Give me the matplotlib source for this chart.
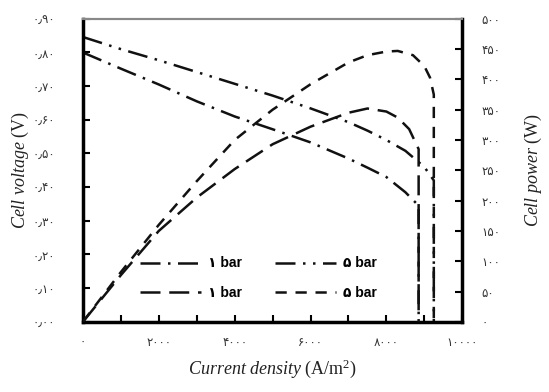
import matplotlib
matplotlib.use("Agg")
from matplotlib import pyplot as plt

# current density (A/m^2) and cell voltage (V) / cell power (W) at 1 and 5 bar
i_v1 = [0, 1000, 2000, 3000, 4000, 5000, 6000, 7000, 7500, 8000, 8500, 8850, 8850]
v_1bar = [0.800, 0.752, 0.705, 0.655, 0.610, 0.572, 0.533, 0.485, 0.458, 0.430, 0.385, 0.345, 0.0]

i_v5 = [0, 1000, 2000, 3000, 4000, 5000, 6000, 7000, 7500, 8000, 8500, 9000, 9250, 9250]
v_5bar = [0.846, 0.810, 0.777, 0.742, 0.707, 0.672, 0.634, 0.593, 0.568, 0.540, 0.508, 0.460, 0.420, 0.0]

i_p1 = [0, 1000, 2000, 3000, 4000, 5000, 6000, 7000, 7500, 8000, 8300, 8600, 8850, 8850]
p_1bar = [0, 77, 150, 205, 252, 293, 322, 345, 352, 347, 337, 318, 285, 0]

i_p5 = [0, 1000, 2000, 3000, 4000, 5000, 6000, 7000, 7500, 8000, 8300, 8700, 9000, 9150, 9250, 9250]
p_5bar = [0, 82, 160, 232, 300, 350, 392, 428, 440, 446, 447, 440, 422, 403, 375, 0]

x_ticks = [0, 2000, 4000, 6000, 8000, 10000]
x_labels = ['۰', '۲۰۰۰', '۴۰۰۰', '۶۰۰۰', '۸۰۰۰', '۱۰۰۰۰']
v_ticks = [0.0, 0.1, 0.2, 0.3, 0.4, 0.5, 0.6, 0.7, 0.8, 0.9]
v_labels = ['۰٫۰۰', '۰٫۱۰', '۰٫۲۰', '۰٫۳۰', '۰٫۴۰', '۰٫۵۰', '۰٫۶۰', '۰٫۷۰', '۰٫۸۰', '۰٫۹۰']
p_ticks = [0, 50, 100, 150, 200, 250, 300, 350, 400, 450, 500]
p_labels = ['۰', '۵۰', '۱۰۰', '۱۵۰', '۲۰۰', '۲۵۰', '۳۰۰', '۳۵۰', '۴۰۰', '۴۵۰', '۵۰۰']

plt.rcParams['mathtext.fontset'] = 'custom'
plt.rcParams['mathtext.rm'] = 'Liberation Serif'
plt.rcParams['mathtext.it'] = 'Liberation Serif:italic'

fig = plt.figure(figsize=(5.49, 3.92), dpi=100)
ax = fig.add_axes([0.151, 0.179, 0.691, 0.773])
ax2 = ax.twinx()

ink = '#111111'
l1, = ax.plot(i_v1, v_1bar, color=ink, lw=1.8, dashes=(8, 3, 1, 3), label='۱ bar')
l2, = ax.plot(i_v5, v_5bar, color=ink, lw=1.8, dashes=(8, 3, 1, 3, 1, 3), label='۵ bar')
l3, = ax2.plot(i_p1, p_1bar, color=ink, lw=1.8, dashes=(8, 3.5), label='۱ bar')
l4, = ax2.plot(i_p5, p_5bar, color=ink, lw=1.8, dashes=(4.5, 3.5), label='۵ bar')

ax.set_xlim(0, 10000)
ax.set_ylim(0, 0.9)
ax2.set_ylim(0, 500)

tick_font = dict(family=['DejaVu Sans'], size=8.5, color='#333333')
ax.set_xticks(x_ticks)
ax.set_xticklabels(x_labels, **tick_font)
ax.set_xticks(range(1000, 10000, 2000), minor=True)
ax.set_yticks(v_ticks)
ax.set_yticklabels(v_labels, **tick_font)
ax2.set_yticks(p_ticks)
ax2.set_yticklabels(p_labels, **tick_font)

ax.tick_params(axis='x', which='both', direction='in', length=5, width=1.5, pad=10)
ax.tick_params(axis='y', direction='in', length=5, width=1.5, pad=20)
ax2.tick_params(axis='y', direction='in', length=5, width=1.5, pad=14)

for a in (ax, ax2):
    a.spines['top'].set_color('#888888')
    a.spines['top'].set_linewidth(1.5)
ax.spines['left'].set_linewidth(2.5)
ax.spines['bottom'].set_linewidth(2.5)
ax.spines['right'].set_visible(False)
ax2.spines['left'].set_visible(False)
ax2.spines['bottom'].set_visible(False)
ax2.spines['right'].set_linewidth(2.5)

label_font = dict(family='Liberation Serif', size=13, color='#222222')
ax.set_ylabel(r'$\mathit{Cell\ voltage}$ (V)', labelpad=1, **label_font)
ax2.set_ylabel(r'$\mathit{Cell\ power}$ (W)', labelpad=16, rotation=90, **label_font)
ax.set_xlabel(r'$\mathit{Current\ density}$ (A/m$^\mathrm{2}$)', labelpad=6, **label_font)

leg = ax2.legend(handles=[l1, l3, l2, l4], ncol=2, loc='lower left',
                 bbox_to_anchor=(0.15, 0.073), frameon=False, borderpad=0,
                 borderaxespad=0, handlelength=4.4, handletextpad=0.5,
                 columnspacing=2.4, labelspacing=1.1,
                 prop=dict(family=['Liberation Sans', 'DejaVu Sans'], weight='bold', size=10))

fig.savefig('out.png', dpi=100)
